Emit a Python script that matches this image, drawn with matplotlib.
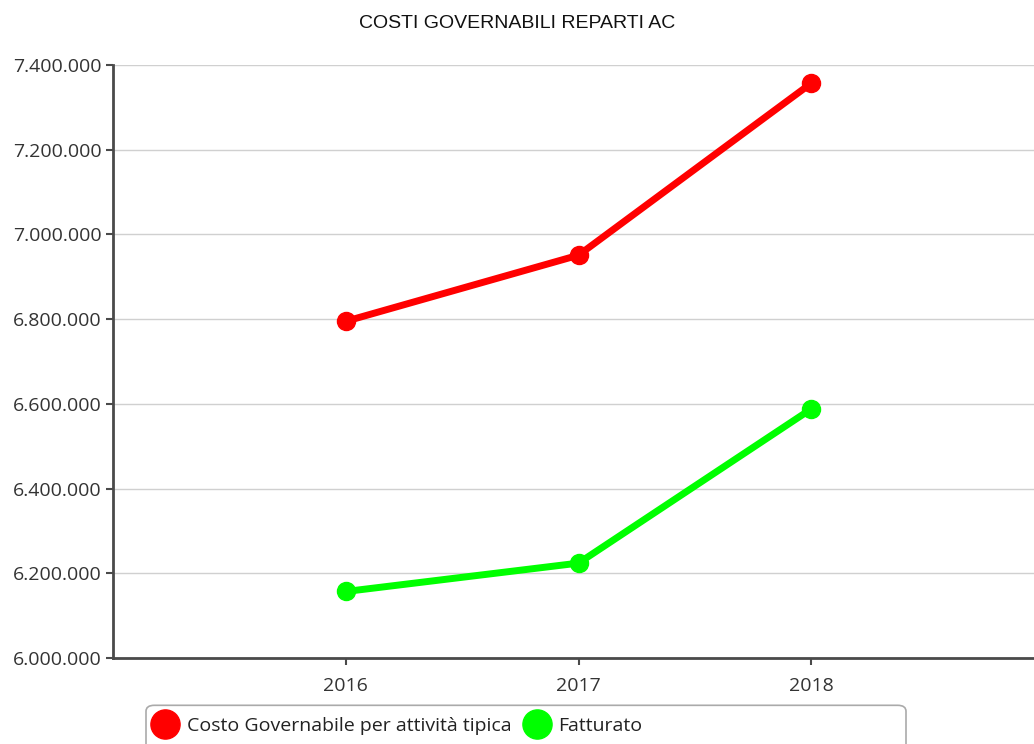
import matplotlib
matplotlib.use("Agg")
import matplotlib.pyplot as plt
from matplotlib.ticker import FuncFormatter
from matplotlib.patches import FancyBboxPatch
from matplotlib.lines import Line2D

# Dati
anni = [2016, 2017, 2018]
costo_governabile = [6795000, 6951000, 7357000]
fatturato = [6157000, 6224000, 6588000]
etichette = ["Costo Governabile per attività tipica", "Fatturato"]
colori = ["#ff0000", "#00ff00"]

plt.rcParams['font.family'] = ['Open Sans', 'DejaVu Sans']

fig = plt.figure(figsize=(10.34, 7.44), dpi=100)
ax = fig.add_axes([0.1093, 0.1156, 0.8907, 0.7970])

for serie, col in zip([costo_governabile, fatturato], colori):
    ax.plot(anni, serie, color=col, lw=5, marker='o', ms=13,
            solid_capstyle='round', zorder=3)

ax.set_xlim(2015, 2018.957)
ax.set_ylim(6000000, 7400000)
ax.set_xticks(anni)
ax.set_yticks(range(6000000, 7400001, 200000))
ax.yaxis.set_major_formatter(FuncFormatter(lambda v, p: f"{int(v):,}".replace(",", ".")))

ax.grid(axis='y', color='#d0d0d0', lw=1)
ax.set_axisbelow(True)
for s in ['top', 'right']:
    ax.spines[s].set_visible(False)
for s in ['left', 'bottom']:
    ax.spines[s].set_color('#4a4a4a')
    ax.spines[s].set_linewidth(2)
ax.tick_params(colors='#4a4a4a', labelcolor='#333333', labelsize=14, width=1.5, length=5)
ax.tick_params(axis='x', pad=9)
ax.tick_params(axis='y', pad=3)

fig.text(0.5, 0.968, "COSTI GOVERNABILI REPARTI AC", ha='center', va='center',
         fontsize=14, family='Liberation Sans', color='#111111')

# Legenda
box = FancyBboxPatch((146 / 1034, -0.02), (906 - 146) / 1034, 0.072,
                     boxstyle="round,pad=0,rounding_size=0.008",
                     transform=fig.transFigure, facecolor='white',
                     edgecolor='#aaaaaa', lw=1.2)
fig.patches.append(box)
handles = [Line2D([], [], ls='none', marker='o', ms=21, color=c) for c in colori]
fig.legend(handles, etichette, loc='center left', bbox_to_anchor=(141 / 1034, 1 - 726 / 744),
           ncol=2, frameon=False, fontsize=14, handlelength=1.1, handletextpad=0.55,
           columnspacing=0.75, labelcolor='#222222', borderpad=0.2)

fig.savefig("out.png", dpi=100)
